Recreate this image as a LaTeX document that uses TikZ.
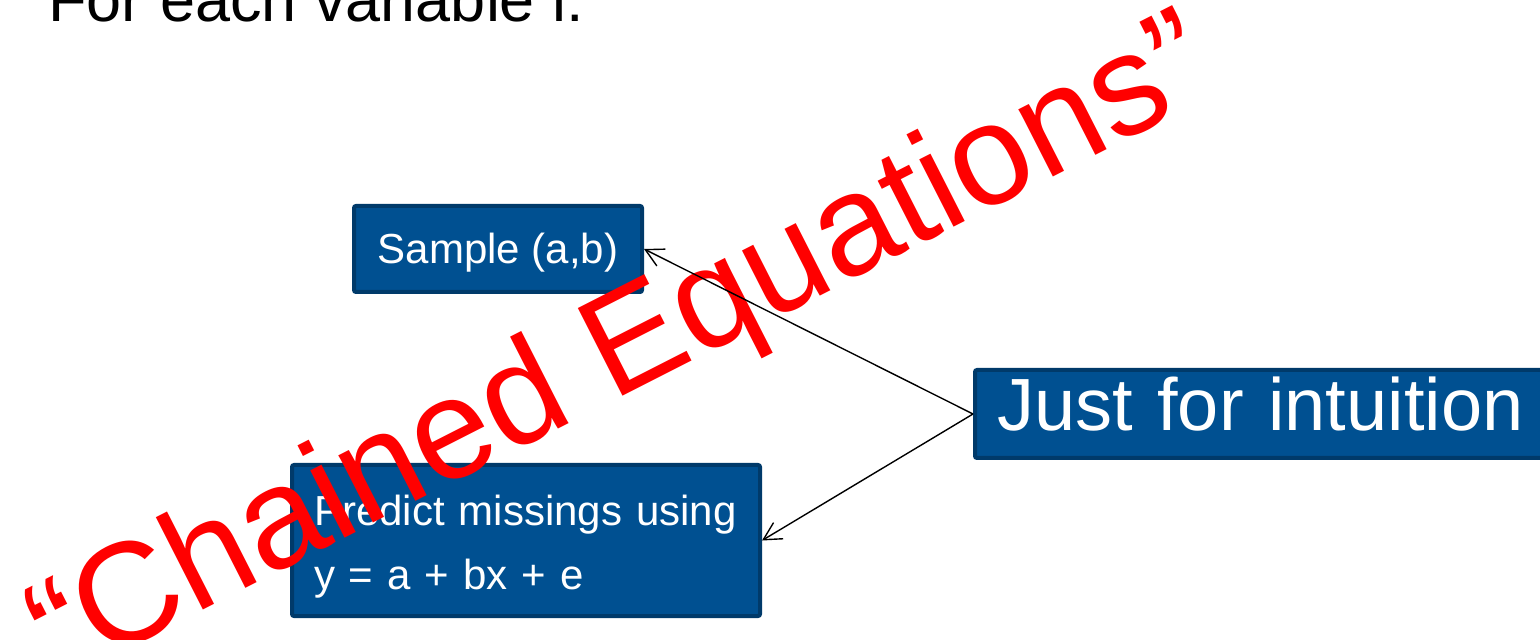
\documentclass[tikz,border=0pt]{standalone}
\usepackage{fontspec}
\setmainfont{Liberation Sans}
\usetikzlibrary{arrows.meta}
\definecolor{boxfill}{RGB}{0,80,145}
\definecolor{boxline}{RGB}{0,58,106}
\definecolor{wmred}{RGB}{255,0,0}
\begin{document}
\begin{tikzpicture}[x=0.5pt,y=-0.5pt,
  bluebox/.style={draw=boxline, line width=2pt, fill=boxfill, rounded corners=1pt,
    text=white, inner ysep=0pt, inner xsep=11pt},
  conn/.style={line width=0.7pt, -{Straight Barb[length=8.8pt,width=9.4pt]}}]
\clip (0,0) rectangle (1540,640);
\fill[white] (0,0) rectangle (1540,640);
\node[anchor=base west, inner sep=0pt, font=\fontsize{31.5}{38}\selectfont] (title) at (48,22) {For each variable i:};
\node[bluebox, anchor=north west, minimum width=144pt, text height=29pt, text depth=14pt,
  font=\fontsize{21}{32}\selectfont] (sample) at (352,204) {Sample (a,b)};
\node[bluebox, anchor=north west, text width=212pt, align=left, text height=30pt, text depth=45.5pt,
  font=\fontsize{21}{32}\selectfont] (predict) at (290,463) {Predict missings using\\y = a + bx + e};
\node[bluebox, anchor=north west, text width=280pt, align=left, text height=30pt, text depth=14pt,
  font=\fontsize{37}{44}\selectfont] (just) at (973,368) {Just for intuition};
\node[anchor=base west, rotate=27, inner sep=0pt, text=wmred,
  font=\fontsize{71.5}{86}\selectfont] (wm) at (60,683) {“Chained Equations”};
\draw[conn] (just.west) -- (sample.east);
\draw[conn] (just.west) -- (predict.east);
\end{tikzpicture}
\end{document}
